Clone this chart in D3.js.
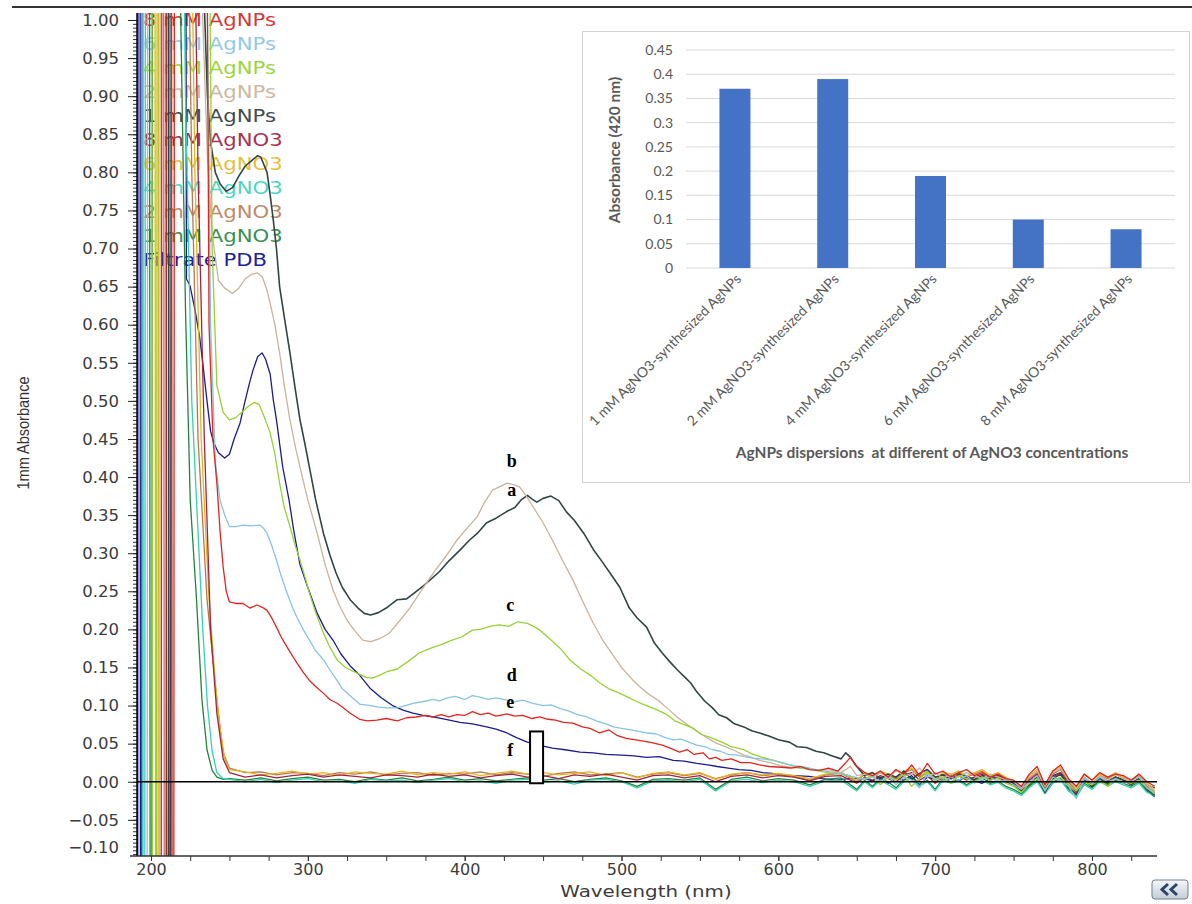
<!DOCTYPE html>
<html>
<head>
<meta charset="utf-8">
<script src="https://cdn.jsdelivr.net/npm/d3@7"></script>
<style>
  body { margin: 0; background: #fff; }
  svg { display: block; }
</style>
</head>
<body>
<svg id="chart" width="1192" height="904"></svg>
<script>
// ---------- spectra data: [wavelength nm, absorbance] ----------
// legend order
var seriesNames = ["8 mM AgNPs", "6 mM AgNPs", "4 mM AgNPs", "2 mM AgNPs", "1 mM AgNPs",
  "8 mM AgNO3", "6 mM AgNO3", "4 mM AgNO3", "2 mM AgNO3", "1 mM AgNO3", "Filtrate PDB"];
var lineColors = ["#e0251f", "#86c4e2", "#95d232", "#c9b39b", "#334444",
  "#a3243f", "#e6b51e", "#33d2b2", "#b9774f", "#24823c", "#1b1b8f"];
var labelColors = ["#d23a3a", "#92c9e6", "#9bd63e", "#cdb8a2", "#3f4b4e",
  "#a53352", "#e6bf3c", "#4fd6bf", "#c08a6a", "#3b8f52", "#2121a0"];

// wavelengths of the noisy tail (all series) and of the flat AgNO3 baselines
var tailWl = d3.range(655, 841, 5);
var baseWl = d3.range(250, 651, 10);

var agnps8Head = [[191,-0.3],[206.5,-0.3],[207,1.4],[213,1.4],[213.5,-0.3],[214.5,-0.3],[215,1.4],[235,1.4],[237,0.6],[239.5,0.45],[242,0.392],[244,0.33],[246,0.282],[248,0.25],[250,0.236],[254,0.234],[258.7,0.234],[263,0.228],[267.6,0.232],[271,0.229],[274,0.225],[277,0.215],[280,0.203],[283,0.19],[286.7,0.177],[290,0.166],[293,0.156],[297,0.144],[301,0.133],[305,0.125],[310,0.116],[314,0.108],[318.6,0.103],[322,0.098],[327,0.09],[333,0.082],[338,0.08],[344,0.081],[350,0.083],[357,0.08],[363,0.084],[369,0.085],[375,0.087],[380,0.085],[385,0.088],[390,0.085],[395,0.088],[400,0.087],[405,0.092],[410,0.088],[415,0.09],[420,0.086],[427,0.089],[432,0.086],[437,0.087],[443,0.083],[448,0.085],[453,0.082],[458,0.081],[463,0.078],[469,0.077],[475,0.072],[480,0.07],[486,0.064],[492,0.068],[497,0.061],[503,0.057],[509,0.055],[515,0.053],[520,0.051],[526,0.048],[531,0.044],[537,0.039],[542,0.042],[546,0.036],[552,0.038],[556,0.03],[560,0.032],[564,0.028],[570,0.03],[576,0.025],[582,0.025],[588,0.022],[594,0.02],[602,0.019],[608,0.018],[614,0.02],[620,0.016],[626,0.015],[632,0.018],[638,0.014],[643,0.025],[646,0.032],[649,0.022]];
var agnps8Tail = [0.012,0.008,0.014,0.006,0.016,0.010,0.022,0.008,0.024,0.010,
  0.014,0.006,0.012,0.016,0.008,0.012,0.006,0.010,0.004,0.002,
  -0.006,0.010,0.020,-0.004,0.014,0.022,0.004,-0.006,0.010,0.002,
  0.012,0.006,0.010,0.008,0.002,0.010,0.000,-0.006];

var agnps6Head = [[191,1.4],[195,1.4],[195.5,-0.3],[197.5,-0.3],[198,1.4],[234,1.4],[238,0.6],[241,0.42],[244,0.37],[247,0.35],[250,0.335],[254,0.335],[258.7,0.337],[264,0.336],[269.5,0.337],[272,0.332],[274,0.326],[277,0.31],[280,0.291],[283,0.27],[286.7,0.248],[290,0.23],[293,0.216],[297,0.2],[301,0.186],[305,0.172],[310,0.16],[314,0.147],[318.6,0.133],[322,0.122],[327,0.113],[333,0.102],[340,0.1],[345,0.098],[350.5,0.097],[357,0.097],[362,0.1],[367,0.103],[373,0.105],[380,0.108],[384,0.106],[388.8,0.11],[394,0.112],[400,0.108],[405,0.113],[409.8,0.111],[415,0.108],[420,0.11],[427,0.107],[432,0.105],[437,0.107],[443.6,0.103],[450,0.1],[455,0.101],[461,0.096],[466,0.093],[472,0.088],[478,0.085],[484,0.08],[490,0.076],[495,0.072],[500,0.07],[506,0.068],[511,0.066],[516,0.064],[522,0.063],[528,0.058],[533,0.055],[538,0.056],[543,0.052],[548,0.048],[553,0.046],[558,0.042],[563,0.04],[568,0.036],[574,0.035],[578,0.033],[584,0.031],[590,0.03],[597,0.028],[603,0.024],[610,0.021],[617,0.019],[624,0.016],[630,0.014],[636,0.012],[644,0.009],[650,0.005]];
var agnps6Tail = [0.003,0.006,0.000,0.008,-0.004,0.006,0.002,-0.008,0.010,0.004,
  0.000,0.006,0.002,0.008,-0.002,0.004,0.006,0.000,0.002,-0.004,
  -0.010,0.000,0.008,-0.012,0.006,0.002,-0.006,-0.022,0.004,-0.002,
  0.006,0.000,0.004,-0.002,0.002,0.006,-0.008,-0.016];

var agnps4Head = [[191,1.4],[200.5,1.4],[201,-0.3],[203.5,-0.3],[204,1.4],[236,1.4],[239,0.7],[242,0.52],[246,0.485],[250,0.475],[254,0.478],[258,0.485],[262,0.493],[266,0.498],[269,0.495],[272,0.48],[276,0.458],[279,0.43],[282,0.392],[285,0.36],[288.6,0.335],[292,0.31],[295,0.291],[298,0.27],[301,0.248],[305,0.222],[310,0.195],[314,0.177],[318.6,0.16],[324,0.15],[331,0.143],[337,0.137],[341,0.136],[346,0.14],[351,0.145],[357,0.148],[364,0.158],[371,0.169],[378,0.175],[385,0.18],[392,0.186],[398,0.19],[405,0.199],[410,0.2],[416,0.204],[422,0.206],[428,0.204],[434,0.21],[440,0.208],[444,0.204],[448,0.199],[454,0.188],[461,0.175],[467,0.16],[474,0.148],[480,0.14],[486,0.13],[492,0.122],[499,0.116],[505,0.11],[510,0.105],[516,0.1],[522,0.095],[529,0.088],[534,0.08],[540,0.075],[546,0.07],[551,0.062],[557,0.058],[564,0.052],[570,0.046],[578,0.042],[584,0.036],[590,0.032],[597,0.028],[604,0.024],[612,0.019],[620,0.017],[626,0.014],[632,0.012],[640,0.01],[648,0.006]];
var agnps4Tail = [0.004,0.008,-0.004,0.006,0.002,0.010,-0.006,0.004,0.012,0.002,
  0.006,-0.002,0.008,0.004,0.000,0.006,0.002,0.004,-0.002,-0.006,
  -0.014,-0.002,0.004,-0.010,0.002,0.006,-0.004,-0.012,0.000,-0.004,
  0.002,-0.006,0.004,0.000,-0.002,0.002,-0.008,-0.014];

var agnps2Head = [[191,-0.3],[205.5,-0.3],[206,1.4],[230,1.4],[233,1.0],[236,0.82],[239,0.72],[243,0.658],[247,0.648],[252,0.641],[256,0.648],[260,0.66],[264,0.666],[268,0.668],[271,0.663],[274,0.645],[276,0.628],[279,0.6],[282,0.563],[285,0.52],[288.6,0.475],[292,0.44],[295,0.413],[300,0.37],[306,0.326],[311,0.285],[316,0.252],[320,0.232],[325,0.212],[330,0.198],[335,0.186],[340,0.184],[346,0.188],[352,0.195],[358,0.21],[365,0.228],[372,0.25],[380,0.274],[388,0.296],[395,0.317],[402,0.334],[408,0.348],[413,0.368],[418,0.383],[423,0.388],[427,0.392],[431,0.39],[435,0.387],[439,0.376],[443.6,0.361],[450,0.34],[456,0.317],[462,0.292],[469,0.265],[475,0.238],[482,0.208],[488,0.186],[494,0.168],[500,0.15],[507,0.134],[512,0.124],[518,0.114],[524,0.106],[530,0.095],[536,0.084],[542,0.075],[549,0.065],[555,0.057],[560,0.051],[566,0.046],[572,0.041],[578,0.035],[583,0.032],[588,0.028],[595,0.025],[601,0.021],[607,0.019],[614,0.018],[620,0.016],[626,0.015],[632,0.016],[640,0.012],[646,0.02],[650,0.008]];
var agnps2Tail = [0.010,0.006,0.012,0.004,0.015,0.008,0.010,0.018,0.006,0.012,
  0.004,0.010,0.006,0.012,0.008,0.004,0.010,0.006,0.003,0.000,
  -0.008,0.006,0.014,-0.006,0.012,0.018,0.002,-0.010,0.006,-0.002,
  0.008,0.002,0.010,0.004,0.000,0.008,-0.004,-0.012];

var agnps1Head = [[191,1.4],[211,1.4],[211.5,-0.3],[212.5,-0.3],[213,1.4],[232,1.4],[234,1.02],[236,0.9],[238,0.84],[241,0.8],[244,0.785],[248,0.775],[252,0.78],[256,0.795],[260,0.808],[264,0.815],[268,0.822],[270,0.82],[272,0.81],[274,0.8],[276,0.77],[278,0.737],[280,0.7],[282,0.65],[285,0.61],[288.6,0.563],[292,0.515],[295,0.475],[298,0.445],[301,0.413],[305,0.37],[310,0.326],[314,0.298],[318,0.274],[322,0.255],[327,0.239],[332,0.228],[336,0.221],[340,0.219],[345,0.222],[350,0.228],[357,0.239],[363,0.24],[368,0.248],[373,0.256],[378,0.265],[384,0.276],[390,0.29],[397,0.304],[403,0.317],[408,0.326],[414,0.34],[420,0.346],[427,0.355],[432,0.36],[436,0.37],[440,0.376],[443,0.371],[446,0.367],[450,0.372],[455,0.375],[460,0.369],[465,0.354],[470,0.343],[476,0.326],[482,0.305],[488,0.288],[494,0.27],[499,0.255],[505,0.228],[510,0.215],[516,0.203],[521,0.182],[526,0.169],[531,0.157],[536,0.146],[540,0.138],[544,0.13],[548,0.118],[553,0.106],[558,0.097],[562,0.088],[567,0.084],[572,0.076],[578,0.072],[583,0.067],[588,0.064],[594,0.06],[600,0.055],[607,0.052],[612,0.046],[618,0.045],[624,0.04],[629,0.038],[634,0.034],[640,0.03],[643,0.038],[646,0.032],[650,0.02]];
var agnps1Tail = [0.008,0.012,0.004,0.010,0.006,0.014,0.003,0.011,0.016,0.006,
  0.009,0.004,0.010,0.007,0.003,0.008,0.005,0.009,0.002,-0.002,
  -0.012,-0.004,0.006,-0.014,0.004,0.010,-0.008,-0.016,0.002,-0.006,
  0.004,-0.002,0.006,0.002,-0.004,0.004,-0.010,-0.018];

var agno3_8Head = [[191,1.4],[209.5,1.4],[210,-0.3],[211,-0.3],[211.5,1.4],[226,1.4],[230,0.8],[234,0.45],[238,0.2],[242,0.09],[246,0.03]];
var agno3_8Base = [0.012,0.006,0.009,0.005,0.008,0.010,0.006,0.009,0.007,0.005,
  0.009,0.008,0.006,0.010,0.007,0.009,0.005,0.008,0.010,0.006,
  0.008,0.004,0.009,0.007,0.010,0.006,0.002,0.008,0.009,0.005,
  0.008,0.000,0.007,0.009,0.005,0.008,0.006,0.001,0.007,0.008,-0.002];
var agno3_8Tail = [0.006,0.002,0.008,0.004,0.000,0.008,0.012,0.002,0.008,-0.002,
  0.006,0.004,0.008,0.002,0.006,0.010,0.002,0.006,0.000,-0.004,
  -0.012,0.002,0.010,-0.010,0.006,0.012,-0.004,-0.014,0.002,-0.004,
  0.004,0.000,0.006,0.002,-0.002,0.004,-0.008,-0.016];

var agno3_6Head = [[191,1.4],[202.5,1.4],[203,-0.3],[204.5,-0.3],[205,1.4],[224,1.4],[228,0.8],[232,0.45],[237,0.24],[241,0.13],[244,0.07],[247,0.03]];
var agno3_6Base = [0.016,0.013,0.009,0.011,0.014,0.010,0.012,0.008,0.013,0.011,
  0.010,0.014,0.009,0.012,0.010,0.013,0.008,0.011,0.014,0.010,
  0.012,0.009,0.011,0.013,0.008,0.012,0.005,0.011,0.013,0.009,
  0.012,0.003,0.010,0.012,0.009,0.011,0.008,0.004,0.010,0.012,0.002];
var agno3_6Tail = [0.012,0.008,0.014,0.010,0.006,0.014,0.018,0.008,0.014,0.004,
  0.012,0.010,0.014,0.008,0.012,0.016,0.008,0.012,0.006,0.000,
  -0.006,0.008,0.016,-0.004,0.014,0.020,0.002,-0.008,0.010,0.002,
  0.010,0.006,0.012,0.006,0.002,0.010,-0.002,-0.010];

var agno3_4Head = [[191,1.4],[194,1.4],[194.5,-0.3],[196,-0.3],[196.5,1.4],[219,1.4],[222,0.9],[226,0.5],[229,0.37],[233,0.2],[236,0.1],[239,0.04],[242,0.012],[246,0.004]];
var agno3_4Base = [0.003,0.000,0.003,-0.001,0.002,0.004,0.000,0.001,-0.002,0.003,
  0.001,0.002,-0.001,0.002,0.004,0.000,0.001,-0.002,0.002,0.003,
  0.000,0.001,-0.003,0.002,0.003,0.000,-0.008,0.001,0.002,0.000,
  0.003,-0.012,0.001,0.003,-0.001,0.002,0.000,-0.006,0.001,0.002,-0.012];
var agno3_4Tail = [0.000,-0.008,0.002,-0.004,-0.010,0.000,0.004,-0.006,0.000,-0.012,
  0.002,-0.002,0.001,-0.006,0.000,0.002,-0.004,-0.001,-0.008,-0.012,
  -0.018,-0.008,0.000,-0.016,-0.002,0.002,-0.012,-0.020,-0.004,-0.010,
  0.000,-0.006,0.000,-0.004,-0.008,-0.002,-0.014,-0.018];

var agno3_2Head = [[191,1.4],[208,1.4],[208.5,-0.3],[209.5,-0.3],[210,1.4],[222,1.4],[226,0.8],[230,0.45],[235.7,0.24],[239,0.17],[242,0.107],[246,0.038]];
var agno3_2Base = [0.018,0.012,0.013,0.009,0.012,0.011,0.008,0.012,0.010,0.013,
  0.009,0.011,0.012,0.008,0.011,0.010,0.013,0.009,0.012,0.010,
  0.007,0.011,0.013,0.009,0.010,0.012,0.006,0.010,0.012,0.008,
  0.011,0.004,0.009,0.012,0.008,0.010,0.007,0.002,0.009,0.011,0.000];
var agno3_2Tail = [0.010,0.006,0.012,0.008,0.004,0.012,0.016,0.006,0.012,0.002,
  0.010,0.008,0.012,0.006,0.010,0.014,0.006,0.010,0.004,-0.002,
  -0.010,0.004,0.012,-0.008,0.010,0.016,0.000,-0.012,0.006,-0.002,
  0.008,0.004,0.010,0.004,0.000,0.008,-0.006,-0.014];

var agno3_1Head = [[191,1.4],[199,1.4],[199.5,-0.3],[200.5,-0.3],[201,1.4],[216,1.4],[219,1.0],[222,0.62],[225,0.37],[229,0.24],[232.5,0.107],[235.7,0.042],[239,0.015],[242,0.006],[246,0.003]];
var agno3_1Base = [0.004,0.002,0.005,0.001,0.004,0.006,0.002,0.003,0.000,0.004,
  0.002,0.005,0.001,0.003,0.006,0.002,0.004,0.001,0.003,0.005,
  0.002,0.004,0.000,0.003,0.005,0.001,-0.006,0.003,0.004,0.002,
  0.005,-0.010,0.003,0.006,0.001,0.004,0.002,-0.004,0.003,0.005,-0.010];
var agno3_1Tail = [0.002,-0.006,0.004,0.000,-0.008,0.003,0.006,-0.004,0.002,-0.010,
  0.004,0.000,0.003,-0.004,0.002,0.005,-0.002,0.001,-0.006,-0.010,
  -0.016,-0.006,0.002,-0.012,0.000,0.004,-0.010,-0.018,-0.002,-0.008,
  0.002,-0.004,0.002,-0.002,-0.006,0.000,-0.012,-0.020];

var filtrateHead = [[191.5,-0.3],[191.8,1.4],[193,1.4],[193.3,-0.3],[194,-0.3],[194.3,1.4],[222,1.4],[222.6,0.66],[224,0.655],[225,0.65],[228,0.62],[231,0.584],[233,0.55],[235.7,0.5],[238,0.46],[240,0.445],[243,0.432],[247,0.425],[250,0.43],[253,0.45],[256.8,0.471],[260,0.5],[263,0.525],[265,0.54],[268,0.558],[270.8,0.563],[273,0.555],[276,0.535],[278,0.501],[280,0.475],[284,0.413],[288,0.37],[291,0.33],[295,0.285],[300,0.255],[306,0.221],[311,0.2],[316,0.186],[321,0.168],[327,0.152],[333,0.14],[340,0.122],[347,0.11],[354,0.1],[360.7,0.094],[367,0.09],[373.5,0.087],[380,0.085],[388,0.082],[397,0.078],[405,0.076],[414,0.072],[420,0.069],[427,0.064],[433,0.058],[440,0.052],[447,0.048],[456,0.044],[464,0.042],[473.6,0.039],[482,0.038],[490,0.036],[499.7,0.035],[508,0.034],[516,0.032],[524,0.033],[533,0.028],[540,0.027],[548,0.024],[555,0.022],[561,0.02],[568,0.018],[575,0.016],[582.6,0.015],[590,0.012],[596,0.011],[602,0.009],[610,0.008],[619.6,0.007],[628,0.004],[636.5,0.002],[645,0.004]];
var filtrateTail = [0.004,0.001,0.006,-0.002,0.005,0.002,0.008,-0.004,0.006,0.003,
  0.000,0.005,0.002,0.006,0.001,-0.002,0.004,0.006,0.001,-0.004,
  -0.008,0.002,0.006,-0.006,0.008,0.012,0.000,-0.010,0.004,-0.002,
  0.004,0.001,0.006,0.002,-0.002,0.004,-0.004,-0.008];

// main axis ticks
var xTicks = [200, 300, 400, 500, 600, 700, 800];
var yTicks = [-0.10, -0.05, 0.00, 0.05, 0.10, 0.15, 0.20, 0.25, 0.30, 0.35, 0.40, 0.45, 0.50,
  0.55, 0.60, 0.65, 0.70, 0.75, 0.80, 0.85, 0.90, 0.95, 1.00];

// curve letters a-f and the marker box
var letterText = ["b", "a", "c", "d", "e", "f"];
var letterWl = [430, 430, 429, 430, 429, 429];
var letterAbs = [0.422, 0.383, 0.232, 0.140, 0.105, 0.042];
var markerWl = [441.7, 450];
var markerAbs = [-0.002, 0.066];

// inset bar chart
var barCategories = ["1 mM AgNO3-synthesized AgNPs", "2 mM AgNO3-synthesized AgNPs",
  "4 mM AgNO3-synthesized AgNPs", "6 mM AgNO3-synthesized AgNPs", "8 mM AgNO3-synthesized AgNPs"];
var barValues = [0.37, 0.39, 0.19, 0.10, 0.08];
var barTicks = [0, 0.05, 0.1, 0.15, 0.2, 0.25, 0.3, 0.35, 0.4, 0.45];

// ---------- build series ----------
function build(head, base, tail) {
  var pts = head.slice();
  if (base) baseWl.forEach(function (w, i) { pts.push([w, base[i]]); });
  tailWl.forEach(function (w, i) { pts.push([w, tail[i]]); });
  return pts;
}
var seriesData = [
  build(agnps8Head, null, agnps8Tail),
  build(agnps6Head, null, agnps6Tail),
  build(agnps4Head, null, agnps4Tail),
  build(agnps2Head, null, agnps2Tail),
  build(agnps1Head, null, agnps1Tail),
  build(agno3_8Head, agno3_8Base, agno3_8Tail),
  build(agno3_6Head, agno3_6Base, agno3_6Tail),
  build(agno3_4Head, agno3_4Base, agno3_4Tail),
  build(agno3_2Head, agno3_2Base, agno3_2Tail),
  build(agno3_1Head, agno3_1Base, agno3_1Tail),
  build(filtrateHead, null, filtrateTail)
];

var svg = d3.select("#chart");
var tickFont = "DejaVu Sans, Verdana, sans-serif";

// widen a text to the reference width
function stretch(sel, factor) {
  sel.each(function () {
    var w = this.getComputedTextLength();
    d3.select(this).attr("textLength", w * factor).attr("lengthAdjust", "spacingAndGlyphs");
  });
}

// top rule
svg.append("line").attr("x1", 12).attr("x2", 1192).attr("y1", 7).attr("y2", 7)
  .attr("stroke", "#333").attr("stroke-width", 2);

var x = d3.scaleLinear().domain([200, 800]).range([151, 1092]);
var y = d3.scaleLinear().domain([-0.0975, 1.0092]).range([856, 13]);
var plotLeft = 137, plotRight = 1157, plotTop = 13, plotBottom = 856;

svg.append("clipPath").attr("id", "plotClip").append("rect")
  .attr("x", plotLeft).attr("y", plotTop)
  .attr("width", plotRight - plotLeft).attr("height", plotBottom - plotTop);

// legend text (curves run over it)
svg.append("g").selectAll("text").data(seriesNames).join("text")
  .attr("x", 143)
  .attr("y", function (d, i) { return 26 + i * 24; })
  .attr("fill", function (d, i) { return labelColors[i]; })
  .attr("font-family", tickFont)
  .attr("font-size", 17.5)
  .text(function (d) { return d; })
  .call(stretch, 1.21);

// curves, drawn last legend entry first
var line = d3.line().x(function (d) { return x(d[0]); }).y(function (d) { return y(d[1]); });
var curves = svg.append("g").attr("clip-path", "url(#plotClip)");
d3.range(seriesData.length - 1, -1, -1).forEach(function (i) {
  curves.append("path")
    .attr("d", line(seriesData[i]))
    .attr("fill", "none")
    .attr("stroke", lineColors[i])
    .attr("stroke-width", i === 4 ? 1.6 : 1.3)
    .attr("stroke-linejoin", "round");
});

// zero line
svg.append("line")
  .attr("x1", plotLeft).attr("x2", plotRight)
  .attr("y1", y(0)).attr("y2", y(0))
  .attr("stroke", "#000").attr("stroke-width", 1.3);

// y axis
var yMinor = d3.range(-19, 201).map(function (k) { return k / 200; });
svg.append("g").attr("transform", "translate(" + plotLeft + ",0)")
  .call(d3.axisLeft(y).tickValues(yMinor).tickSize(4).tickFormat(""))
  .call(function (g) { g.select(".domain").remove(); g.selectAll("line").attr("stroke", "#333"); });
var yAxisG = svg.append("g").attr("transform", "translate(" + plotLeft + ",0)")
  .call(d3.axisLeft(y).tickValues(yTicks).tickSize(9).tickPadding(9).tickFormat(d3.format(".2f")));
yAxisG.select(".domain").remove();
yAxisG.selectAll("line").attr("stroke", "#222");
yAxisG.selectAll("text").attr("font-family", tickFont).attr("font-size", 16.5).attr("fill", "#3c3c3c");
yAxisG.selectAll(".tick").filter(function (d) { return d < -0.099; })
  .attr("transform", "translate(0," + (plotBottom - 8) + ")")
  .select("line").remove();
svg.append("line").attr("x1", plotLeft).attr("x2", plotLeft)
  .attr("y1", plotTop).attr("y2", plotBottom).attr("stroke", "#000").attr("stroke-width", 1.5);

// x axis
svg.append("g").attr("transform", "translate(0," + plotBottom + ")")
  .call(d3.axisBottom(x).tickValues(d3.range(200, 841, 25)).tickSize(5).tickFormat(""))
  .call(function (g) { g.select(".domain").remove(); g.selectAll("line").attr("stroke", "#333"); });
var xAxisG = svg.append("g").attr("transform", "translate(0," + plotBottom + ")")
  .call(d3.axisBottom(x).tickValues(xTicks).tickSize(5).tickPadding(3));
xAxisG.select(".domain").remove();
xAxisG.selectAll("line").attr("stroke", "#333");
xAxisG.selectAll("text").attr("font-family", tickFont).attr("font-size", 16).attr("fill", "#3c3c3c");
svg.append("line").attr("x1", 130).attr("x2", plotRight)
  .attr("y1", plotBottom).attr("y2", plotBottom).attr("stroke", "#333").attr("stroke-width", 1.5);

// axis titles
svg.append("text").attr("x", 646).attr("y", 897).attr("text-anchor", "middle")
  .attr("font-family", tickFont).attr("font-size", 15.5).attr("fill", "#3c3c3c")
  .text("Wavelength (nm)")
  .call(stretch, 1.28);
svg.append("text").attr("transform", "translate(29,433) rotate(-90)").attr("text-anchor", "middle")
  .attr("font-family", "Liberation Sans Narrow, Liberation Sans, Arial, sans-serif")
  .attr("font-size", 17).attr("fill", "#333")
  .attr("textLength", 113).attr("lengthAdjust", "spacingAndGlyphs")
  .text("1mm Absorbance");

// letters and marker box
svg.append("g").selectAll("text").data(letterText).join("text")
  .attr("x", function (d, i) { return x(letterWl[i]); })
  .attr("y", function (d, i) { return y(letterAbs[i]); })
  .attr("dy", "0.35em")
  .attr("text-anchor", "middle")
  .attr("font-family", "Liberation Serif, Times New Roman, serif")
  .attr("font-weight", "bold").attr("font-size", 18).attr("fill", "#000")
  .text(function (d) { return d; });
svg.append("rect")
  .attr("x", x(markerWl[0])).attr("y", y(markerAbs[1]))
  .attr("width", x(markerWl[1]) - x(markerWl[0]))
  .attr("height", y(markerAbs[0]) - y(markerAbs[1]))
  .attr("fill", "#fff").attr("stroke", "#000").attr("stroke-width", 2);

// ---------- inset bar chart ----------
var inset = svg.append("g");
var insetFont = "Lato, Open Sans, sans-serif";
inset.append("rect").attr("x", 582.5).attr("y", 31.5).attr("width", 607).attr("height", 451)
  .attr("fill", "#fff").attr("stroke", "#d3d3d3");
var yb = d3.scaleLinear().domain([0, 0.45]).range([268, 50]);
var xb = d3.scaleBand().domain(barCategories).range([686, 1175]).paddingInner(0.683).paddingOuter(0.342);

inset.append("g").selectAll("line").data(barTicks).join("line")
  .attr("x1", 686).attr("x2", 1175)
  .attr("y1", function (d) { return yb(d); }).attr("y2", function (d) { return yb(d); })
  .attr("stroke", "#d9d9d9").attr("stroke-width", 1);
inset.append("g").selectAll("text").data(barTicks).join("text")
  .attr("x", 673).attr("y", function (d) { return yb(d); }).attr("dy", "0.35em")
  .attr("text-anchor", "end")
  .attr("font-family", insetFont).attr("font-size", 14).attr("fill", "#595959")
  .text(function (d) { return String(d); });
inset.append("g").selectAll("rect").data(barValues).join("rect")
  .attr("x", function (d, i) { return xb(barCategories[i]); })
  .attr("y", function (d) { return yb(d); })
  .attr("width", xb.bandwidth())
  .attr("height", function (d) { return yb(0) - yb(d); })
  .attr("fill", "#4472c4");
inset.append("g").selectAll("text").data(barCategories).join("text")
  .attr("transform", function (d) {
    return "translate(" + (xb(d) + xb.bandwidth() / 2 + 7) + ",280) rotate(-45)";
  })
  .attr("text-anchor", "end")
  .attr("font-family", insetFont).attr("font-size", 14).attr("fill", "#595959")
  .text(function (d) { return d; });
inset.append("text").attr("x", 932).attr("y", 458).attr("text-anchor", "middle")
  .attr("font-family", insetFont).attr("font-weight", "bold").attr("font-size", 15.5).attr("fill", "#595959")
  .attr("xml:space", "preserve")
  .text("AgNPs dispersions  at different of AgNO3 concentrations");
inset.append("text").attr("transform", "translate(620,150) rotate(-90)").attr("text-anchor", "middle")
  .attr("font-family", insetFont).attr("font-weight", "bold").attr("font-size", 15.5).attr("fill", "#595959")
  .text("Absorbance (420 nm)");

// collapse button, bottom right
var defs = svg.append("defs");
var grad = defs.append("linearGradient").attr("id", "btnGrad").attr("x1", 0).attr("x2", 0).attr("y1", 0).attr("y2", 1);
grad.append("stop").attr("offset", "0%").attr("stop-color", "#f6f8fa");
grad.append("stop").attr("offset", "100%").attr("stop-color", "#c3ccd6");
var btn = svg.append("g").attr("transform", "translate(1152,880)");
btn.append("rect").attr("width", 36).attr("height", 19).attr("rx", 3)
  .attr("fill", "url(#btnGrad)").attr("stroke", "#6f8196");
btn.append("path").attr("d", "M16,4 L10,9.5 L16,15 M25,4 L19,9.5 L25,15")
  .attr("fill", "none").attr("stroke", "#2b4566").attr("stroke-width", 3);
</script>
</body>
</html>
